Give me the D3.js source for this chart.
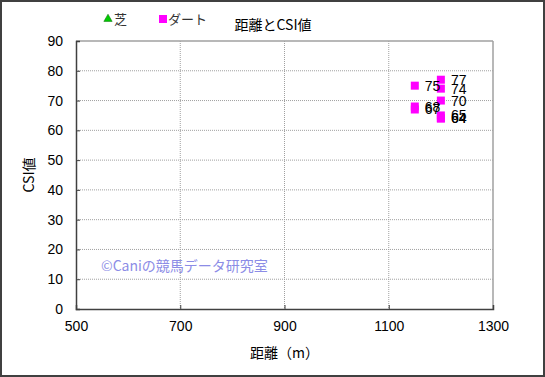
<!DOCTYPE html>
<html>
<head>
<meta charset="utf-8">
<script src="https://cdn.jsdelivr.net/npm/d3@7"></script>
<style>
  body { margin: 0; background: #fff; }
  svg { display: block; }
  text { font-family: "Liberation Sans", Arial, "Noto Sans CJK JP", sans-serif; }
  .jp { font-family: "Noto Sans CJK JP", sans-serif; }
</style>
</head>
<body>
<svg id="chart" width="545" height="377"></svg>
<script>
// data
const turfPoints = [];
const dirtDistance = [1150, 1150, 1150, 1200, 1200, 1200, 1200, 1200, 1200];
const dirtCsi = [75, 67, 68, 77, 74, 70, 65, 64, 64];
const xTicks = [500, 700, 900, 1100, 1300];
const yTicks = [0, 10, 20, 30, 40, 50, 60, 70, 80, 90];

const svg = d3.select("#chart");
const width = 545, height = 377;
const margin = { top: 41, right: 52, bottom: 68, left: 76 };
const innerWidth = width - margin.left - margin.right;
const innerHeight = height - margin.top - margin.bottom;

svg.append("rect")
    .attr("x", 1).attr("y", 1)
    .attr("width", width - 2).attr("height", height - 2)
    .attr("fill", "#fff")
    .attr("stroke", "#404040")
    .attr("stroke-width", 2);

const g = svg.append("g").attr("transform", `translate(${margin.left},${margin.top})`);

const x = d3.scaleLinear().domain([500, 1300]).range([0, innerWidth]);
const y = d3.scaleLinear().domain([0, 90]).range([innerHeight, 0]);

// grid
g.selectAll(".hgrid")
    .data(yTicks.slice(1, -1))
    .join("line")
    .attr("x1", 0).attr("x2", innerWidth)
    .attr("y1", d => y(d)).attr("y2", d => y(d))
    .attr("stroke", "#a0a0a0")
    .attr("stroke-dasharray", "1,1");

g.selectAll(".vgrid")
    .data(xTicks.slice(1, -1))
    .join("line")
    .attr("y1", 0).attr("y2", innerHeight)
    .attr("x1", d => x(d)).attr("x2", d => x(d))
    .attr("stroke", "#a0a0a0")
    .attr("stroke-dasharray", "1,1");

// frame
g.append("line").attr("x1", 0).attr("x2", innerWidth).attr("y1", 0).attr("y2", 0)
    .attr("stroke", "#a0a0a0").attr("stroke-width", 1.5);
g.append("line").attr("x1", innerWidth).attr("x2", innerWidth).attr("y1", 0).attr("y2", innerHeight)
    .attr("stroke", "#a0a0a0").attr("stroke-width", 1.5);

const xAxis = g.append("g")
    .attr("transform", `translate(0,${innerHeight})`)
    .call(d3.axisBottom(x).tickValues(xTicks).tickFormat(d3.format("d")).tickSize(-4).tickPadding(12));
const yAxis = g.append("g")
    .call(d3.axisLeft(y).tickValues(yTicks).tickFormat(d3.format("d")).tickSize(-4).tickPadding(13));

[xAxis, yAxis].forEach(a => {
    a.attr("font-family", null).attr("font-size", null);
    a.select(".domain").attr("stroke", "#404040").attr("stroke-width", 1.5);
    a.selectAll(".tick line").attr("stroke", "#404040");
    a.selectAll("text").style("font-size", "14px").attr("fill", "#000");
});

// watermark
g.append("text")
    .attr("class", "jp")
    .attr("x", x(548))
    .attr("y", y(12.6))
    .attr("fill", "#8c8ce6")
    .style("font-size", "14px")
    .text("©Caniの競馬データ研究室");

// dirt points
const dirt = dirtDistance.map((d, i) => ({ dist: d, csi: dirtCsi[i] }));
g.selectAll(".dirt")
    .data(dirt)
    .join("rect")
    .attr("x", d => x(d.dist) - 4)
    .attr("y", d => y(d.csi) - 4)
    .attr("width", 8).attr("height", 8)
    .attr("fill", "#ff00ff");

g.selectAll(".dlabel")
    .data(dirt)
    .join("text")
    .attr("x", d => x(d.dist) + 10)
    .attr("y", d => y(d.csi) + 5)
    .style("font-size", "14px")
    .attr("fill", "#000")
    .text(d => d.csi);

// axis titles
svg.append("text")
    .attr("class", "jp")
    .attr("x", margin.left + innerWidth / 2)
    .attr("y", 358)
    .attr("text-anchor", "middle")
    .style("font-size", "14px")
    .text("距離（m）");

svg.append("text")
    .attr("class", "jp")
    .attr("transform", `translate(34,${margin.top + innerHeight / 2}) rotate(-90)`)
    .attr("text-anchor", "middle")
    .style("font-size", "14px")
    .text("CSI値");

// title
svg.append("text")
    .attr("class", "jp")
    .attr("x", 273)
    .attr("y", 30)
    .attr("text-anchor", "middle")
    .style("font-size", "14px")
    .text("距離とCSI値");

// legend
const legend = svg.append("g").attr("transform", "translate(104,19)");
legend.append("path")
    .attr("d", d3.symbol(d3.symbolTriangle, 30)())
    .attr("transform", "translate(4,0)")
    .attr("fill", "#00cc00")
    .attr("stroke", "#006600")
    .attr("stroke-width", 0.5);
legend.append("text")
    .attr("class", "jp")
    .attr("x", 10).attr("y", 5)
    .style("font-size", "13px")
    .attr("fill", "#333")
    .text("芝");
legend.append("rect")
    .attr("x", 55).attr("y", -4)
    .attr("width", 8).attr("height", 8)
    .attr("fill", "#ff00ff");
legend.append("text")
    .attr("class", "jp")
    .attr("x", 64).attr("y", 5)
    .style("font-size", "13px")
    .attr("fill", "#333")
    .text("ダート");
</script>
</body>
</html>
